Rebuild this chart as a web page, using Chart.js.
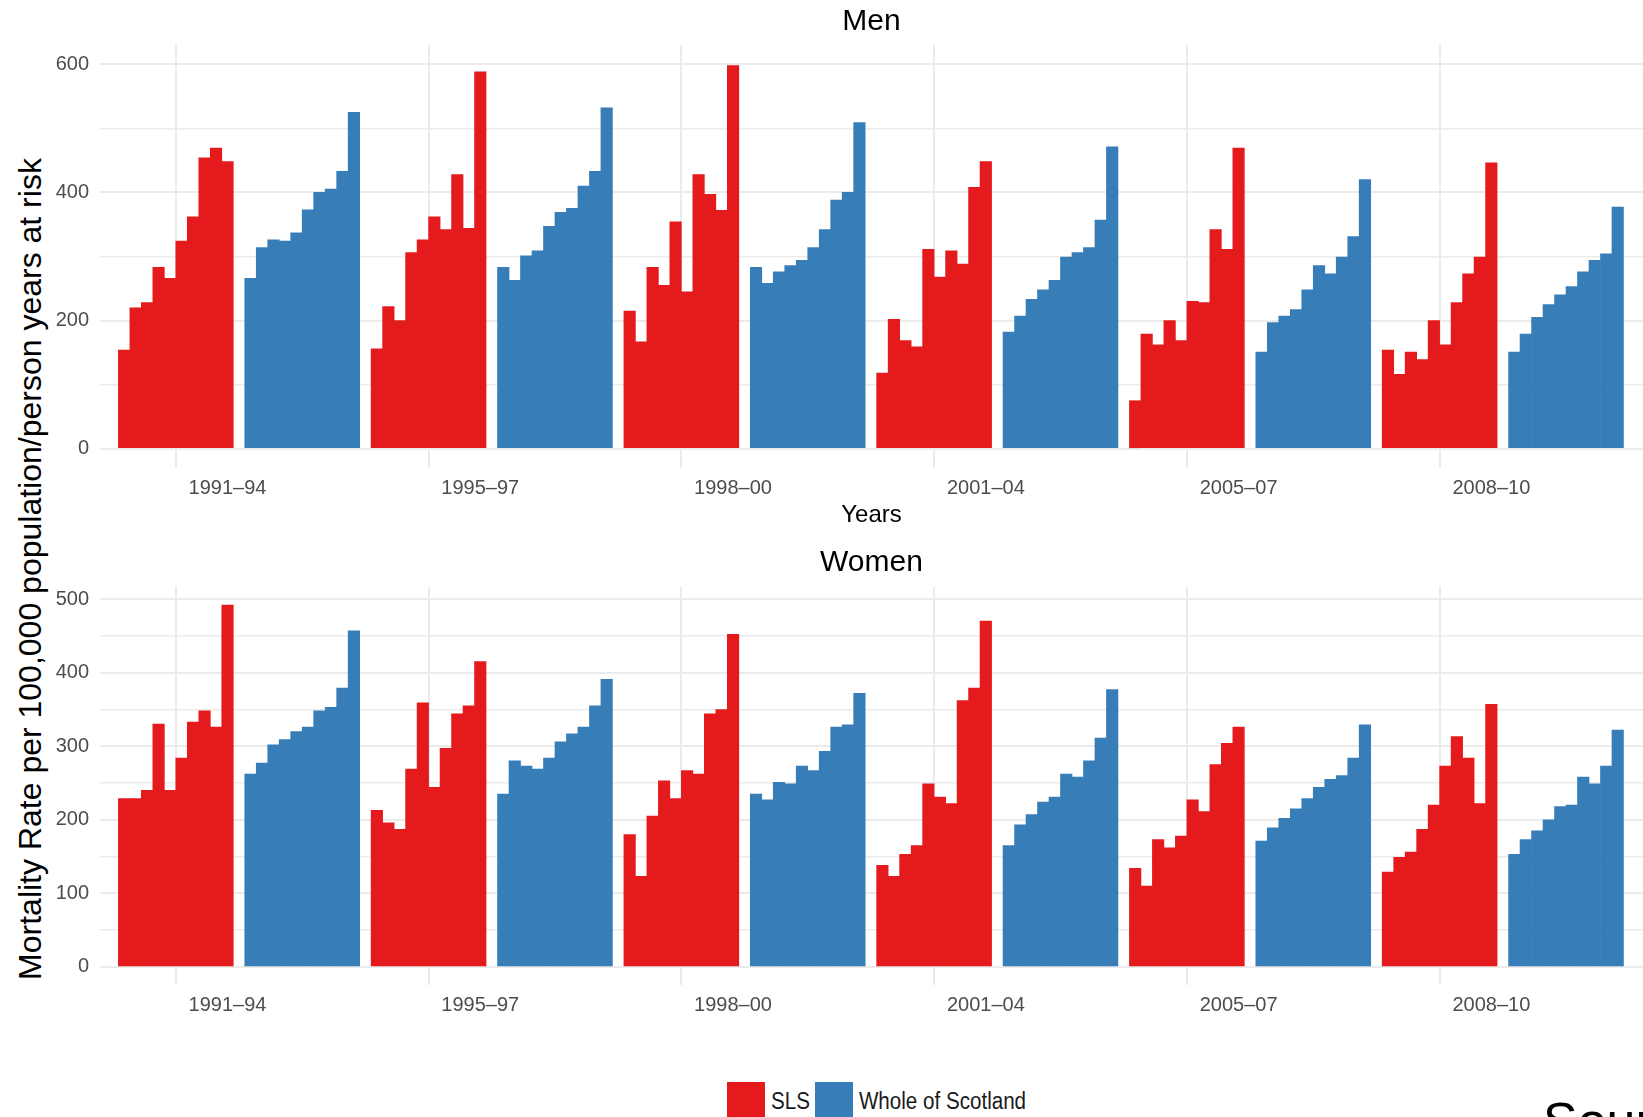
<!DOCTYPE html>
<html lang="en">
<head>
    <meta charset="UTF-8">
    <title>Mortality rate - SLS vs Whole of Scotland</title>
    <script src="https://cdn.jsdelivr.net/npm/chart.js"></script>
    <style>
        html, body { margin: 0; padding: 0; background: #fff; overflow: hidden; }
        #page { position: relative; width: 1643px; height: 1117px; overflow: hidden; background: #fff;
                font-family: 'Liberation Sans', Arial, sans-serif; }
        canvas { position: absolute; left: 0; }
        #ytitle { position: absolute; left: -420px; top: 550px; width: 900px; line-height: 38px;
                  text-align: center; font-size: 32px; color: #000; white-space: nowrap;
                  transform: rotate(-90deg); }
        #legend { position: absolute; left: 727px; top: 1082px; display: flex; align-items: center; }
        #legend .box { width: 38px; height: 38px; }
        #legend .txt { font-size: 20.6px; color: #1a1a1a; margin: 0 5px 0 6px; display: inline-block;
                       transform: scaleY(1.2); }
        #source { position: absolute; left: 1543px; top: 1095px; font-size: 52px; line-height: 1;
                  color: #000; white-space: nowrap; }
    </style>
</head>
<body>
<div id="page">
    <div id="ytitle">Mortality Rate per 100,000 population/person years at risk</div>
    <canvas id="men" width="1643" height="530" style="top:0"></canvas>
    <canvas id="women" width="1643" height="487" style="top:530px"></canvas>
    <div id="legend"></div>
    <div id="source">Source:</div>
</div>

<script>
    // donnees (10 annees par periode)
    const periods = ['1991\u201394', '1995\u201397', '1998\u201300', '2001\u201304', '2005\u201307', '2008\u201310'];
    const seriesNames = ['SLS', 'Whole of Scotland'];
    const seriesColors = ['#e41a1c', '#377eb8'];

    const menSLS = [
        [154, 220, 228, 283, 266, 324, 362, 454, 469, 448],
        [156, 222, 200, 306, 326, 362, 342, 428, 344, 588],
        [215, 167, 283, 255, 354, 245, 428, 397, 372, 598],
        [118, 202, 169, 159, 311, 268, 309, 288, 408, 448],
        [75, 179, 162, 200, 169, 230, 228, 342, 311, 469],
        [154, 116, 151, 139, 200, 162, 228, 273, 299, 446]
    ];
    const menScotland = [
        [266, 314, 326, 324, 337, 373, 400, 405, 433, 525],
        [283, 263, 301, 309, 347, 369, 375, 410, 433, 532],
        [283, 258, 276, 286, 294, 314, 342, 388, 400, 509],
        [182, 207, 233, 248, 263, 299, 306, 314, 357, 471],
        [151, 197, 207, 217, 248, 286, 273, 299, 331, 420],
        [151, 179, 205, 225, 240, 253, 276, 294, 304, 377]
    ];
    const womenSLS = [
        [229, 229, 240, 330, 240, 284, 333, 348, 326, 492],
        [213, 196, 187, 269, 359, 244, 297, 344, 355, 415],
        [180, 123, 205, 253, 229, 267, 262, 344, 350, 452],
        [138, 123, 153, 165, 249, 231, 222, 362, 379, 470],
        [134, 110, 173, 162, 178, 227, 211, 275, 304, 326],
        [129, 149, 156, 187, 220, 273, 313, 284, 222, 357]
    ];
    const womenScotland = [
        [262, 277, 302, 309, 320, 326, 348, 353, 379, 457],
        [235, 280, 273, 269, 284, 306, 317, 326, 355, 391],
        [235, 227, 251, 249, 273, 267, 293, 326, 329, 372],
        [165, 193, 207, 224, 231, 262, 258, 280, 311, 377],
        [171, 189, 202, 215, 229, 244, 255, 260, 284, 329],
        [153, 173, 185, 200, 218, 220, 258, 249, 273, 322]
    ];

    // graduations de l'axe y
    const menYTicks = [0, 100, 200, 300, 400, 500, 600];
    const menYLabels = [0, 200, 400, 600];
    const womenYTicks = [0, 50, 100, 150, 200, 250, 300, 350, 400, 450, 500];
    const womenYLabels = [0, 100, 200, 300, 400, 500];

    // 22 places par periode : SLS 0-9, vide, Scotland 11-20, vide
    const slots = 22;
    const gridTicks = periods.map((p, g) => g * slots + 4.5);
    const labelTicks = periods.map((p, g) => g * slots + 9);

    Chart.defaults.font.family = "'Liberation Sans', Arial, sans-serif";

    function toPoints(groups, offset) {
        return groups.flatMap((vals, g) => vals.map((v, i) => ({ x: g * slots + offset + i, y: v })));
    }

    function makePanel(id, title, titlePad, sls, scot, yMin, yMax, yTicks, yLabels, xTitle, xHeight) {
        const ctx = document.getElementById(id).getContext('2d');
        return new Chart(ctx, {
            type: 'bar',
            data: {
                datasets: [
                    { label: seriesNames[0], data: toPoints(sls, 0), backgroundColor: seriesColors[0] },
                    { label: seriesNames[1], data: toPoints(scot, 11), backgroundColor: seriesColors[1] }
                ]
            },
            options: {
                responsive: false,
                animation: false,
                grouped: false,
                barPercentage: 1,
                categoryPercentage: 1,
                borderWidth: 0,
                layout: { padding: 0 },
                plugins: {
                    legend: { display: false },
                    tooltip: { enabled: false },
                    title: {
                        display: true,
                        text: title,
                        fullSize: false,
                        color: '#000',
                        font: { size: 30, weight: 'normal' },
                        padding: titlePad
                    }
                },
                scales: {
                    x: {
                        type: 'linear',
                        min: -2.1,
                        max: 132.2,
                        bounds: 'data',
                        offset: false,
                        border: { display: false },
                        grid: {
                            offset: false,
                            drawTicks: false,
                            lineWidth: 2,
                            color: (c) => c.tick && gridTicks.includes(c.tick.value) ? '#ebebeb' : 'rgba(0,0,0,0)'
                        },
                        afterBuildTicks: (scale) => {
                            scale.ticks = gridTicks.concat(labelTicks).sort((a, b) => a - b).map(v => ({ value: v }));
                        },
                        afterFit: (scale) => { scale.height = xHeight; },
                        ticks: {
                            autoSkip: false,
                            maxRotation: 0,
                            padding: 8,
                            color: '#4d4d4d',
                            font: { size: 20 },
                            callback: (v) => {
                                const g = labelTicks.indexOf(v);
                                return g >= 0 ? periods[g] : '';
                            }
                        },
                        title: {
                            display: !!xTitle,
                            text: xTitle || '',
                            color: '#000',
                            font: { size: 24 },
                            padding: { top: 1, bottom: 0 }
                        }
                    },
                    y: {
                        min: yMin,
                        max: yMax,
                        bounds: 'data',
                        border: { display: false },
                        grid: {
                            drawTicks: false,
                            color: '#ebebeb',
                            lineWidth: (c) => c.tick && yLabels.includes(c.tick.value) ? 2 : 1.5
                        },
                        afterBuildTicks: (scale) => {
                            scale.ticks = yTicks.map(v => ({ value: v }));
                        },
                        afterFit: (scale) => { scale.width = 100; },
                        ticks: {
                            padding: 11,
                            color: '#4d4d4d',
                            font: { size: 20 },
                            callback: (v) => yLabels.includes(v) ? String(v) : ''
                        }
                    }
                }
            }
        });
    }

    const menChart = makePanel('men', 'Men', { top: 3.5, bottom: 5.5 },
        menSLS, menScotland, -30, 630, menYTicks, menYLabels, 'Years', 62);
    const womenChart = makePanel('women', 'Women', { top: 15, bottom: 5.7 },
        womenSLS, womenScotland, -24.6, 516.9, womenYTicks, womenYLabels, null, 32);

    // legende en HTML a partir des datasets
    const legend = document.getElementById('legend');
    womenChart.data.datasets.forEach((ds) => {
        const box = document.createElement('span');
        box.className = 'box';
        box.style.background = ds.backgroundColor;
        const txt = document.createElement('span');
        txt.className = 'txt';
        txt.textContent = ds.label;
        legend.appendChild(box);
        legend.appendChild(txt);
    });
</script>
</body>
</html>
